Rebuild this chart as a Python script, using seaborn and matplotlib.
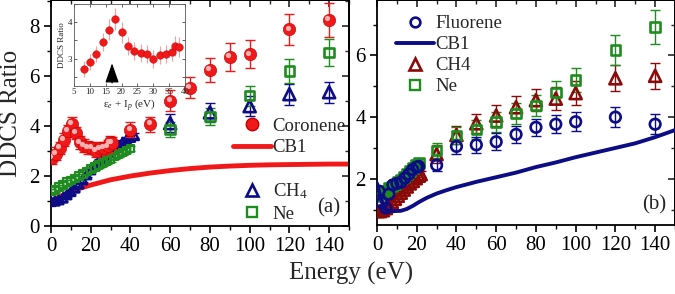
import matplotlib
matplotlib.use('Agg')
import matplotlib.pyplot as plt
import matplotlib.transforms as mtrans
from matplotlib.lines import Line2D
from matplotlib.ticker import MultipleLocator
import seaborn as sns

# ---- data ----
# panel (a): coronene
cor_E = [0.5, 2.5, 4.5, 6.5, 8.5, 10.5, 12.5, 14.5, 16.5, 18.5, 20.5, 22.5, 24.5, 26.5, 28.5, 29.5, 30.5,
         40, 50, 60, 70, 80, 90, 100, 120, 140]
cor_v = [2.72, 2.90, 3.12, 3.46, 3.80, 4.10, 3.72, 3.35, 3.22, 3.15, 3.12, 3.00, 3.11, 3.13, 3.19, 3.35, 3.32,
         3.86, 4.08, 5.02, 5.53, 6.25, 6.77, 6.88, 7.88, 8.25]
cor_err = [0.25] * 17 + [0.3, 0.3, 0.42, 0.42, 0.48, 0.55, 0.55, 0.62, 0.67]

# panel (a): CB1 for coronene
cb1a_E = [0, 5, 10, 15, 20, 30, 40, 50, 60, 70, 80, 90, 100, 110, 120, 130, 140, 150]
cb1a_v = [1.0, 1.2, 1.38, 1.52, 1.64, 1.85, 2.0, 2.12, 2.22, 2.3, 2.36, 2.4, 2.43, 2.45, 2.46, 2.47, 2.48, 2.48]

# CH4 and Ne (dense low-energy part, panel a)
ch4a_E = [0, 2, 4, 6, 8, 10, 12, 14, 16, 18, 20, 22, 24, 26, 28, 30, 32, 34, 36, 38, 40, 42]
ch4a_v = [0.98, 1.0, 1.05, 1.12, 1.25, 1.38, 1.52, 1.68, 1.85, 2.05, 2.25, 2.42, 2.6, 2.72, 2.85, 2.98,
          3.1, 3.22, 3.35, 3.45, 3.55, 3.62]
nea_E = [0, 2, 4, 6, 8, 10, 12, 14, 16, 18, 20, 22, 24, 26, 28, 30, 32, 34, 36, 38, 40]
nea_v = [1.4, 1.45, 1.55, 1.65, 1.75, 1.82, 1.9, 2.0, 2.08, 2.18, 2.28, 2.36, 2.44, 2.52, 2.6, 2.68,
         2.78, 2.86, 2.94, 3.02, 3.1]

# CH4 and Ne, higher energies (panel a)
ch4_hi_E = [60, 80, 100, 120, 140]
ch4_hi_v = [4.12, 4.55, 4.8, 5.28, 5.36]
ch4_hi_err = [0.35, 0.38, 0.4, 0.42, 0.42]
ne_hi_E = [60, 80, 100, 120, 140]
ne_hi_v = [3.86, 4.38, 5.22, 6.2, 6.95]
ne_hi_err = [0.3, 0.35, 0.4, 0.48, 0.55]

# panel (b): fluorene
flu_E = [1, 2.5, 4.5, 6, 8, 10, 12, 14, 16, 18, 20, 21,
         30, 40, 50, 60, 70, 80, 90, 100, 120, 140]
flu_v = [1.6, 1.22, 1.05, 1.5, 1.8, 1.85, 1.88, 2.02, 2.15, 2.3, 2.38, 2.4,
         2.44, 3.05, 3.1, 3.2, 3.44, 3.67, 3.77, 3.85, 4.0, 3.77]
flu_err = [0.12] * 12 + [0.2, 0.25, 0.25, 0.27, 0.27, 0.28, 0.3, 0.3, 0.32, 0.32]

cb1b_E = [0, 1, 2, 3, 4, 5, 8, 12, 15, 18, 21, 25, 30, 35, 40, 50, 60, 70, 80, 90, 100, 110, 120, 130, 140, 150]
cb1b_v = [1.85, 1.6, 1.35, 1.15, 1.02, 0.97, 0.95, 0.96, 1.02, 1.12, 1.24, 1.38, 1.52, 1.63, 1.73, 1.9,
          2.05, 2.2, 2.38, 2.53, 2.7, 2.85, 3.0, 3.15, 3.35, 3.58]

ch4b_E = [0, 1.5, 3, 4.5, 6, 7.5, 9, 10.5, 12, 13.5, 15, 16.5, 18, 19.5, 21, 22,
          30, 40, 50, 60, 70, 80, 90, 100, 120, 140]
ch4b_v = [0.95, 0.95, 0.98, 1.05, 1.15, 1.25, 1.35, 1.45, 1.55, 1.65, 1.75, 1.85, 1.93, 2.02, 2.1, 2.15,
          2.8, 3.42, 3.8, 4.05, 4.32, 4.55, 4.6, 4.78, 5.26, 5.34]
ch4b_err = [0.1] * 16 + [0.3, 0.3, 0.3, 0.35, 0.35, 0.35, 0.38, 0.4, 0.42, 0.42]

neb_E = [0, 1.5, 3, 4.5, 6, 7.5, 9, 10.5, 12, 13.5, 15, 16.5, 18, 19.5, 21,
         30, 40, 50, 60, 70, 80, 90, 100, 120, 140]
neb_v = [1.45, 1.5, 1.58, 1.62, 1.7, 1.75, 1.82, 1.9, 1.98, 2.05, 2.15, 2.25, 2.35, 2.45, 2.52,
         2.92, 3.4, 3.6, 3.84, 4.12, 4.38, 4.8, 5.2, 6.18, 6.92]
neb_err = [0.12] * 15 + [0.25, 0.28, 0.3, 0.33, 0.35, 0.35, 0.38, 0.4, 0.5, 0.55]

# inset: coronene vs eps_e + I_p
ins_x = [8, 10, 12, 14, 16, 18, 20, 22, 24, 26, 28, 30, 32, 34, 36, 37, 38]
ins_v = [2.72, 2.90, 3.12, 3.46, 3.80, 4.10, 3.72, 3.35, 3.22, 3.15, 3.12, 3.00, 3.11, 3.13, 3.19, 3.35, 3.32]
ins_err = [0.22, 0.22, 0.22, 0.25, 0.28, 0.3, 0.28, 0.25, 0.25, 0.25, 0.25, 0.25, 0.25, 0.25, 0.25, 0.28, 0.28]

RED = '#f01818'
NAVY = '#0c0c86'
GREEN = '#1e8c1e'
DRED = '#8a0a0a'

sns.set_theme(style='ticks')
plt.rcParams['font.family'] = ['Liberation Serif', 'DejaVu Serif']
plt.rcParams['mathtext.fontset'] = 'custom'
plt.rcParams['mathtext.rm'] = 'Liberation Serif'
plt.rcParams['mathtext.it'] = 'Liberation Serif:italic'
plt.rcParams['axes.linewidth'] = 1.3
plt.rcParams['axes.edgecolor'] = 'black'

fig = plt.figure(figsize=(6.75, 2.94), dpi=100)
axa = fig.add_axes([51 / 675, 68 / 294, 298 / 675, 226 / 294])
axb = fig.add_axes([377 / 675, 69 / 294, 298 / 675, 225 / 294])


def style_axis(ax, ylo, yhi):
    ax.set_xlim(0, 150)
    ax.set_ylim(ylo, yhi)
    ax.xaxis.set_major_locator(MultipleLocator(20))
    ax.xaxis.set_minor_locator(MultipleLocator(10))
    ax.yaxis.set_major_locator(MultipleLocator(2))
    ax.yaxis.set_minor_locator(MultipleLocator(1))
    ax.tick_params(which='both', direction='out', labelsize=15, colors='black', pad=3,
                   top=False, right=False)
    ax.tick_params(which='major', length=5, width=1.2)
    ax.tick_params(which='minor', length=3, width=1.0)
    # inner ticks on the mirror axes
    sy = ax.secondary_yaxis('right')
    sy.yaxis.set_major_locator(MultipleLocator(2))
    sy.yaxis.set_minor_locator(MultipleLocator(1))
    sy.tick_params(which='both', direction='in', labelright=False)
    sy.tick_params(which='major', length=5, width=1.2)
    sy.tick_params(which='minor', length=3, width=1.0)
    sx = ax.secondary_xaxis('top')
    sx.xaxis.set_major_locator(MultipleLocator(20))
    sx.xaxis.set_minor_locator(MultipleLocator(10))
    sx.tick_params(which='both', direction='in', labeltop=False)
    sx.tick_params(which='major', length=5, width=1.2)
    sx.tick_params(which='minor', length=3, width=1.0)


def spheres(ax, x, y, size):
    sns.scatterplot(x=x, y=y, ax=ax, color=RED, s=size, edgecolor='#c00000', linewidth=0.4, zorder=5)
    hl = mtrans.offset_copy(ax.transData, fig=fig, x=-1.2, y=1.2, units='points')
    ax.scatter(x, y, s=size * 0.18, color='#ffb0b0', linewidths=0, transform=hl, zorder=6)


def open_marks(ax, x, y, err, marker, color, size, lw=1.9, elw=1.0):
    ax.errorbar(x, y, yerr=err, fmt='none', ecolor=color, elinewidth=elw, capsize=3.5, capthick=elw, zorder=3)
    sns.scatterplot(x=x, y=y, ax=ax, marker=marker, s=size, facecolors='none', edgecolor=color,
                    linewidth=lw, zorder=4)


# ---- panel (a) ----
style_axis(axa, 0, 9.05)
sns.lineplot(x=cb1a_E, y=cb1a_v, ax=axa, color=RED, lw=3.5, zorder=2)
open_marks(axa, ch4a_E, ch4a_v, [0.1] * len(ch4a_E), '^', NAVY, 40, lw=1.8)
open_marks(axa, nea_E, nea_v, [0.1] * len(nea_E), 's', GREEN, 30, lw=1.6)
open_marks(axa, ch4_hi_E, ch4_hi_v, ch4_hi_err, '^', NAVY, 75)
open_marks(axa, ne_hi_E, ne_hi_v, ne_hi_err, 's', GREEN, 48)
axa.errorbar(cor_E, cor_v, yerr=cor_err, fmt='none', ecolor=RED, elinewidth=1.0, capsize=3.5, zorder=4)
spheres(axa, cor_E, cor_v, 80)
axa.set_ylabel('DDCS Ratio', fontsize=18, labelpad=5)
axa.text(0.97, 0.08, '(a)', transform=axa.transAxes, ha='right', va='center', fontsize=15)

h_cor = Line2D([], [], ls='none', marker='o', ms=9, mfc=RED, mec='#c00000')
h_cb1 = Line2D([], [], color=RED, lw=3.5)
h_blank = Line2D([], [], ls='none')
h_ch4 = Line2D([], [], ls='none', marker='^', ms=8, mfc='none', mec=NAVY, mew=1.9)
h_ne = Line2D([], [], ls='none', marker='s', ms=6.5, mfc='none', mec=GREEN, mew=1.7)
axa.legend([h_cor, h_cb1, h_blank, h_ch4, h_ne], ['Coronene', 'CB1', '', 'CH$_4$', 'Ne'],
           loc='upper left', bbox_to_anchor=(0.58, 0.52), frameon=False, fontsize=13.5,
           handlelength=2.0, handletextpad=0.1, labelspacing=0.22, borderpad=0)

# inset
axi = fig.add_axes([74 / 675, 1 - 86 / 294, 111 / 675, 82 / 294])
axi.errorbar(ins_x, ins_v, yerr=ins_err, fmt='none', ecolor='#f8a0a0', elinewidth=0.8, zorder=2)
sns.scatterplot(x=ins_x, y=ins_v, ax=axi, color=RED, s=30, edgecolor='#c00000', linewidth=0.3, zorder=5)
axi.set_xlim(5, 40)
axi.set_ylim(2.25, 4.5)
axi.xaxis.set_major_locator(MultipleLocator(5))
axi.yaxis.set_major_locator(MultipleLocator(1))
axi.yaxis.set_minor_locator(MultipleLocator(0.5))
axi.tick_params(which='both', direction='in', labelsize=6.5, length=2, width=0.5, pad=1.5,
                top=True, right=True)
for s in axi.spines.values():
    s.set_linewidth(0.6)
    s.set_edgecolor('#555555')
axi.annotate('', xy=(17, 2.95), xytext=(17, 2.26),
             arrowprops=dict(arrowstyle='-|>,head_width=0.35,head_length=1.0', color='black', lw=0.9))
axi.set_xlabel(r'ε$_e$ + I$_p$ (eV)', fontsize=8, labelpad=1)
axi.set_ylabel('DDCS Ratio', fontsize=6.5, labelpad=1)

# ---- panel (b) ----
style_axis(axb, 0.5, 7.8)
sns.lineplot(x=cb1b_E, y=cb1b_v, ax=axb, color=NAVY, lw=2.8, zorder=6)
open_marks(axb, ch4b_E, ch4b_v, ch4b_err, '^', DRED, 75)
open_marks(axb, neb_E, neb_v, neb_err, 's', GREEN, 48)
open_marks(axb, flu_E, flu_v, flu_err, 'o', NAVY, 58)
axb.text(0.97, 0.09, '(b)', transform=axb.transAxes, ha='right', va='center', fontsize=15)

hb_flu = Line2D([], [], ls='none', marker='o', ms=7, mfc='none', mec=NAVY, mew=1.9)
hb_cb1 = Line2D([], [], color=NAVY, lw=2.8)
hb_ch4 = Line2D([], [], ls='none', marker='^', ms=8, mfc='none', mec=DRED, mew=1.9)
hb_ne = Line2D([], [], ls='none', marker='s', ms=6.5, mfc='none', mec=GREEN, mew=1.7)
axb.legend([hb_flu, hb_cb1, hb_ch4, hb_ne], ['Fluorene', 'CB1', 'CH4', 'Ne'],
           loc='upper left', bbox_to_anchor=(0.02, 0.99), frameon=False, fontsize=13.5,
           handlelength=2.0, handletextpad=0.1, labelspacing=0.2, borderpad=0.2)

fig.text(0.52, 0.03, 'Energy (eV)', ha='center', va='bottom', fontsize=18)

fig.savefig('out.png', dpi=100)
